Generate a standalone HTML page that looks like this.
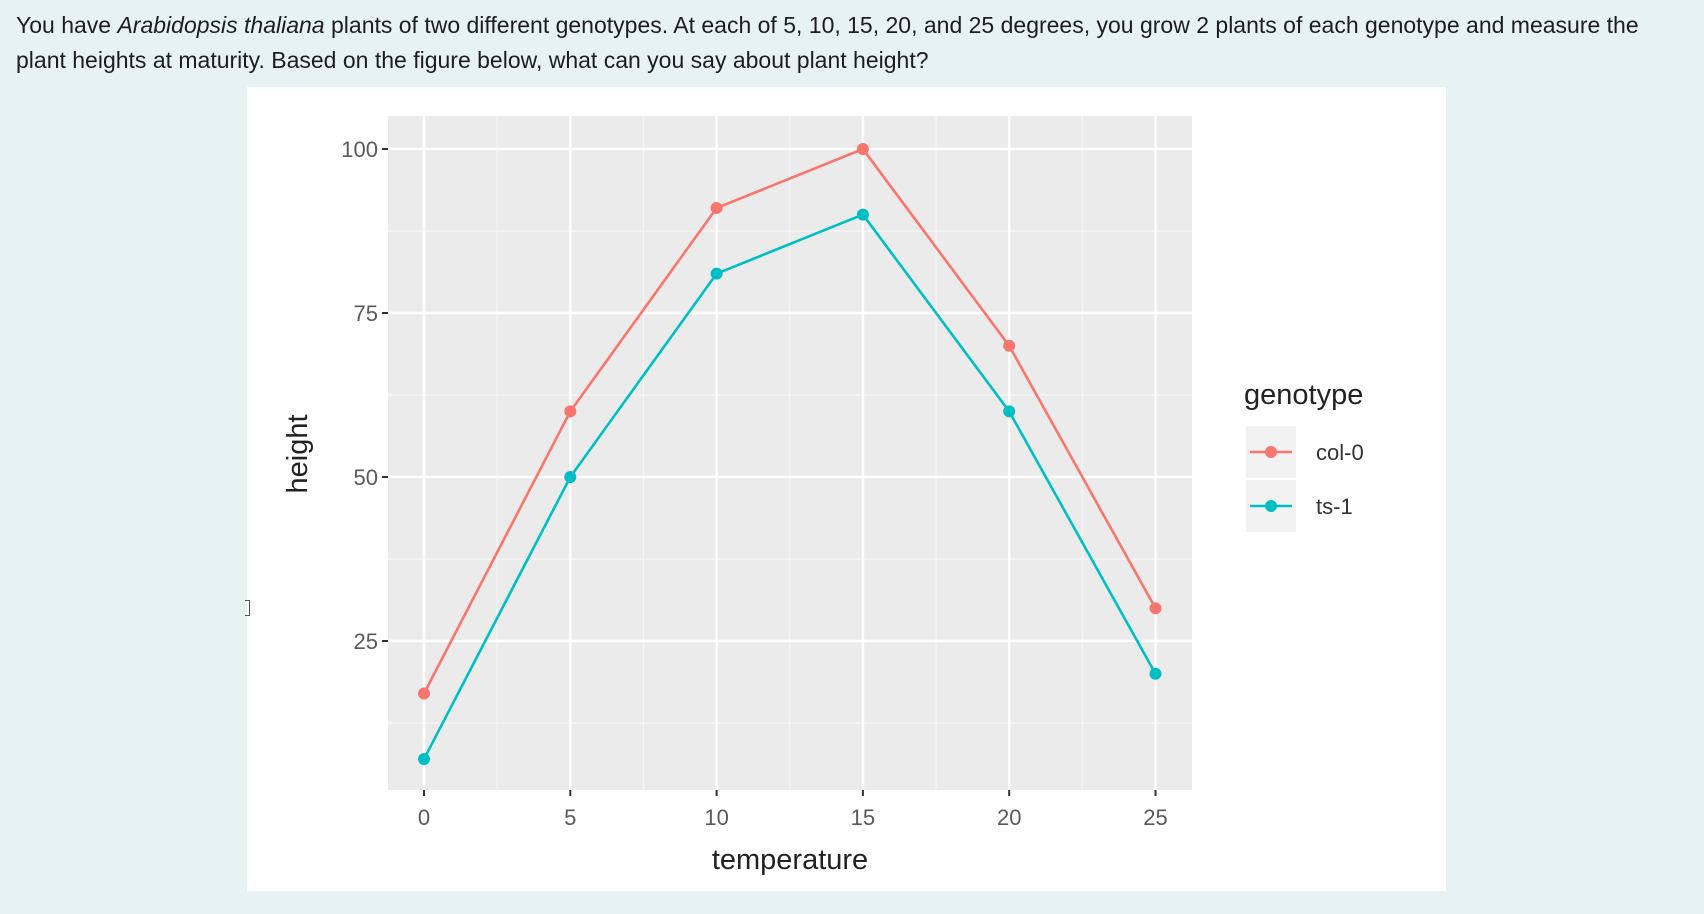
<!DOCTYPE html>
<html><head><meta charset="utf-8"><style>
body{margin:0;width:1704px;height:914px;background:#e7f2f4;font-family:"Liberation Sans",sans-serif;overflow:hidden;position:relative}
#q{position:absolute;left:16px;top:8px;width:1650px;font-size:23px;line-height:35px;color:#1d1d1d}
#card{position:absolute;left:247px;top:87px;width:1199px;height:804px;background:#fff}
svg{position:absolute;left:0;top:0}
</style></head><body>
<div id="q">You have <i>Arabidopsis thaliana</i> plants of two different genotypes. At each of 5, 10, 15, 20, and 25 degrees, you grow 2 plants of each genotype and measure the<br>plant heights at maturity. Based on the figure below, what can you say about plant height?</div>
<div id="card"></div>
<div style="position:absolute;left:245px;top:600px;width:4px;height:14px;border:1px solid #555;border-left:none"></div>
<svg id="chart" width="1704" height="914"></svg>
<script>
const temps=[0,5,10,15,20,25];
const col0=[17,60,91,100,70,30];
const ts1=[7,50,81,90,60,20];
const yTicks=[25,50,75,100];
const xTicks=[0,5,10,15,20,25];
const ns="http://www.w3.org/2000/svg";
const svg=document.getElementById('chart');
const X=v=>424+v*146.3/5;
const Y=v=>149+(100-v)*6.56;
const P={l:388,r:1192,t:116,b:790};
function el(t,a,p){const e=document.createElementNS(ns,t);for(const k in a)e.setAttribute(k,a[k]);(p||svg).appendChild(e);return e;}
const panel=el('rect',{x:P.l,y:P.t,width:P.r-P.l,height:P.b-P.t,fill:'#ebebeb'});


[12.5,37.5,62.5,87.5].forEach(v=>{const g=el('line',{x1:P.l,x2:P.r,y1:Y(v),y2:Y(v),stroke:'#f5f5f5','stroke-width':1.2});});
[2.5,7.5,12.5,17.5,22.5].forEach(v=>{const g=el('line',{x1:X(v),x2:X(v),y1:P.t,y2:P.b,stroke:'#f5f5f5','stroke-width':1.2});});
yTicks.forEach(v=>{
const g=el('line',{x1:P.l,x2:P.r,y1:Y(v),y2:Y(v),stroke:'#fff','stroke-width':2.5});
const tk=el('line',{x1:P.l-6,x2:P.l,y1:Y(v),y2:Y(v),stroke:'#333','stroke-width':2});
const t=el('text',{x:P.l-10,y:Y(v)+8,'text-anchor':'end','font-size':22,fill:'#5a5a5a'});t.textContent=v;
});
xTicks.forEach(v=>{
const g=el('line',{x1:X(v),x2:X(v),y1:P.t,y2:P.b,stroke:'#fff','stroke-width':2.5});
const tk=el('line',{x1:X(v),x2:X(v),y1:P.b,y2:P.b+6,stroke:'#333','stroke-width':2});
const t=el('text',{x:X(v),y:P.b+35,'text-anchor':'middle','font-size':22,fill:'#5a5a5a'});t.textContent=v;
});
function series(vals,color,name){
const pl=el('polyline',{points:vals.map((v,i)=>X(temps[i])+','+Y(v)).join(' '),fill:'none',stroke:color,'stroke-width':2.6});

vals.forEach((v,i)=>{const c=el('circle',{cx:X(temps[i]),cy:Y(v),r:6,fill:color});});
}
series(col0,'#f8766d','col-0');
series(ts1,'#00bfc4','ts-1');
const xt=el('text',{x:790,y:869,'text-anchor':'middle','font-size':29,fill:'#222'});xt.textContent='temperature';
const yt=el('text',{x:0,y:0,'text-anchor':'middle','font-size':29,fill:'#222',transform:'translate(307,454) rotate(-90)'});yt.textContent='height';
const lt=el('text',{x:1244,y:404,'font-size':29,fill:'#222'});lt.textContent='genotype';
[['col-0','#f8766d',452],['ts-1','#00bfc4',506]].forEach(([n,c,y])=>{
const b=el('rect',{x:1246,y:y-26,width:50,height:52,fill:'#f2f2f2'});
const l=el('line',{x1:1250,x2:1292,y1:y,y2:y,stroke:c,'stroke-width':2.6});
const d=el('circle',{cx:1271,cy:y,r:6,fill:c});
const t=el('text',{x:1316,y:y+8,'font-size':22,fill:'#333'});t.textContent=n;
});
</script>
</body></html>
